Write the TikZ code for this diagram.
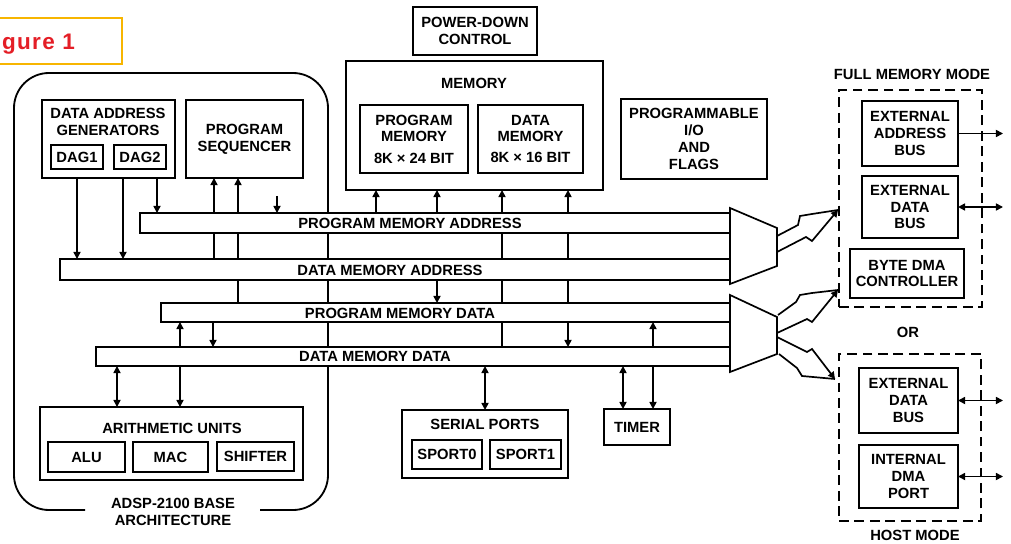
\documentclass[tikz,border=0pt]{standalone}
\usepackage{fontspec}
\setmainfont{Liberation Sans}
\usetikzlibrary{arrows.meta,backgrounds}
\definecolor{figred}{HTML}{E41E26}
\definecolor{figgold}{HTML}{F7B500}
\newcommand\pxbox[7][]{\node[box,#1,minimum width={(#5-#3)*0.025cm},minimum height={(#6-#4)*0.025cm}] (#2) at ({(#3+#5)/2},{(#4+#6)/2}) {#7};}
\begin{document}
\begin{tikzpicture}[x=0.025cm,y=-0.025cm,
 every node/.style={font=\bfseries\fontsize{10.5}{12}\selectfont, inner sep=0pt, outer sep=0pt},
 box/.style={draw, line width=1.3pt, fill=white, align=center},
 bus/.style={line width=1.1pt},
 lbl/.style={align=center},
 conn/.style={line width=1.1pt},
 mux/.style={draw, line width=1.2pt, fill=white, line join=miter},
 zz/.style={line width=1.2pt, line join=miter},
 dbox/.style={dash pattern=on 7pt off 4pt, fill=none},
 >={Triangle[length=5pt,width=5pt]},
]
\useasboundingbox (0,0) rectangle (1011,544);

% title
\pxbox[draw=figgold, line width=2pt, fill=none]{figb}{-20}{18}{122}{64}{}
\node[anchor=base west, text=figred, font=\bfseries\fontsize{16}{18}\selectfont\addfontfeature{LetterSpace=6}] (figT) at (2,50) {gure 1};

% DAG and sequencer
\pxbox{dagb}{42}{100}{175}{178}{}
\node[lbl] (dagT) at (108,122) {DATA ADDRESS\\GENERATORS};
\pxbox{dag1}{51}{145}{103}{169}{DAG1}
\pxbox{dag2}{114}{145}{166}{169}{DAG2}
\pxbox{seq}{186}{100}{303}{178}{PROGRAM\\SEQUENCER}

% power-down and memory
\pxbox{pwr}{413}{7}{537}{55}{POWER-DOWN\\CONTROL}
\pxbox{mem}{346}{61}{603}{190}{}
\node (memT) at (474,83) {MEMORY};
\pxbox{pm}{360}{105}{468}{173}{PROGRAM\\MEMORY\\[3pt]8K × 24 BIT}
\pxbox{dm}{478}{105}{583}{173}{DATA\\MEMORY\\[3pt]8K × 16 BIT}
\pxbox{pio}{621}{99}{767}{179}{PROGRAMMABLE\\I/O\\AND\\FLAGS}

% buses
\pxbox[bus]{pma}{140}{213}{730}{233}{}
\pxbox[bus]{dma}{60}{259}{730}{280}{}
\pxbox[bus]{pmd}{161}{303}{730}{322}{}
\pxbox[bus]{dmd}{96}{347}{730}{366}{}
\node (pmaT) at (410,223) {PROGRAM MEMORY ADDRESS};
\node (dmaT) at (390,270) {DATA MEMORY ADDRESS};
\node (pmdT) at (400,313) {PROGRAM MEMORY DATA};
\node (dmdT) at (375,356) {DATA MEMORY DATA};

% multiplexers
\draw[mux] (730,208) -- (777,228) -- (777,266) -- (730,284) -- cycle;
\draw[mux] (730,295) -- (777,317) -- (777,354) -- (730,372) -- cycle;

% full memory mode
\pxbox[dbox]{full}{839}{90}{982}{307}{}
\node (fullT) at (912,74) {FULL MEMORY MODE};
\pxbox{eab}{862}{101}{958}{166}{EXTERNAL\\ADDRESS\\BUS}
\pxbox{edb}{862}{176}{958}{238}{EXTERNAL\\DATA\\BUS}
\pxbox{bdma}{850}{249}{964}{298}{BYTE DMA\\CONTROLLER}
\node (orT) at (908,332) {OR};
\pxbox[dbox]{host}{839}{354}{981}{521}{}
\node (hostT) at (915,535) {HOST MODE};
\pxbox{hedb}{859}{368}{958}{433}{EXTERNAL\\DATA\\BUS}
\pxbox{idma}{859}{445}{958}{508}{INTERNAL\\DMA\\PORT}

% arithmetic units
\pxbox{au}{40}{407}{303}{480}{}
\node (auT) at (172,428) {ARITHMETIC UNITS};
\pxbox{alu}{48}{442}{125}{472}{ALU}
\pxbox{mac}{133}{442}{208}{472}{MAC}
\pxbox{shf}{217}{442}{294}{471}{SHIFTER}

% serial ports and timer
\pxbox{sp}{402}{410}{568}{478}{}
\node (spT) at (485,424) {SERIAL PORTS};
\pxbox{sp0}{412}{440}{482}{469}{SPORT0}
\pxbox{sp1}{490}{440}{561}{469}{SPORT1}
\pxbox{timer}{604}{409}{670}{445}{TIMER}

\node[lbl] (baseT) at (173,512) {ADSP-2100 BASE\\ARCHITECTURE};

% x positions of connectors
\coordinate (x117) at (117,0);
\coordinate (x123) at (123,0);
\coordinate (x157) at (157,0);
\coordinate (x180) at (180,0);
\coordinate (x213) at (213,0);
\coordinate (x214) at (214,0);
\coordinate (x238) at (238,0);
\coordinate (x376) at (376,0);
\coordinate (x437) at (437,0);
\coordinate (x502) at (502,0);
\coordinate (x568) at (568,0);
\coordinate (x623) at (623,0);
\coordinate (x653) at (653,0);
\coordinate (a277) at (277,196);
\coordinate (rx) at (1003,0);

\begin{pgfonlayer}{background}
 \draw[line width=1.3pt, rounded corners=0.875cm] (85,510) -| (14,73) -| (328,510) -- (260,510);
 \draw[conn,->] (dag1.south) -- (dag1.south |- dma.north);
 \draw[conn,->] (x123 |- dag2.south) -- (x123 |- dma.north);
 \draw[conn,->] (x157 |- dag2.south) -- (x157 |- pma.north);
 \draw[conn,<-] (x214 |- seq.south) -- (x214 |- dma.north);
 \draw[conn,<-] (x238 |- seq.south) -- (x238 |- pmd.north);
 \draw[conn,->] (a277) -- (a277 |- pma.north);
 \draw[conn,<-] (x376 |- mem.south) -- (x376 |- pma.north);
 \draw[conn,<-] (x437 |- mem.south) -- (x437 |- pma.north);
 \draw[conn,<-] (x502 |- mem.south) -- (x502 |- dmd.north);
 \draw[conn,<->] (x568 |- mem.south) -- (x568 |- dmd.north);
 \draw[conn,->] (x437 |- dma.south) -- (x437 |- pmd.north);
 \draw[conn,<->] (x180 |- pmd.south) -- (x180 |- au.north);
 \draw[conn,->] (x213 |- pmd.south) -- (x213 |- dmd.north);
 \draw[conn,<->] (x117 |- dmd.south) -- (x117 |- au.north);
 \draw[conn,<->] (sp.north |- dmd.south) -- (sp.north);
 \draw[conn,<->] (x623 |- dmd.south) -- (x623 |- timer.north);
 \draw[conn,<->] (x653 |- pmd.south) -- (x653 |- timer.north);
\end{pgfonlayer}

% wide zig-zag bus arrows
\draw[zz] (777,236) -- (798,225) -- (800,216) -- (812,214) -- (838,210);
\draw[zz,->] (777,252) -- (806,237) -- (812,241) -- (838,210);
\draw[zz] (778,315) -- (796,302) -- (800,295) -- (812,293) -- (838,290);
\draw[zz,->] (777,333) -- (807,319) -- (812,322) -- (838,290);
\draw[zz,->] (777,337) -- (807,352) -- (812,349) -- (835,379);
\draw[zz] (779,354) -- (797,368) -- (802,376) -- (835,379);

% external pins
\draw[conn,->] (eab.east) -- (eab.east -| rx);
\draw[conn,<->] (edb.east) -- (edb.east -| rx);
\draw[conn,<->] (hedb.east) -- (hedb.east -| rx);
\draw[conn,<->] (idma.east) -- (idma.east -| rx);
\end{tikzpicture}
\end{document}
